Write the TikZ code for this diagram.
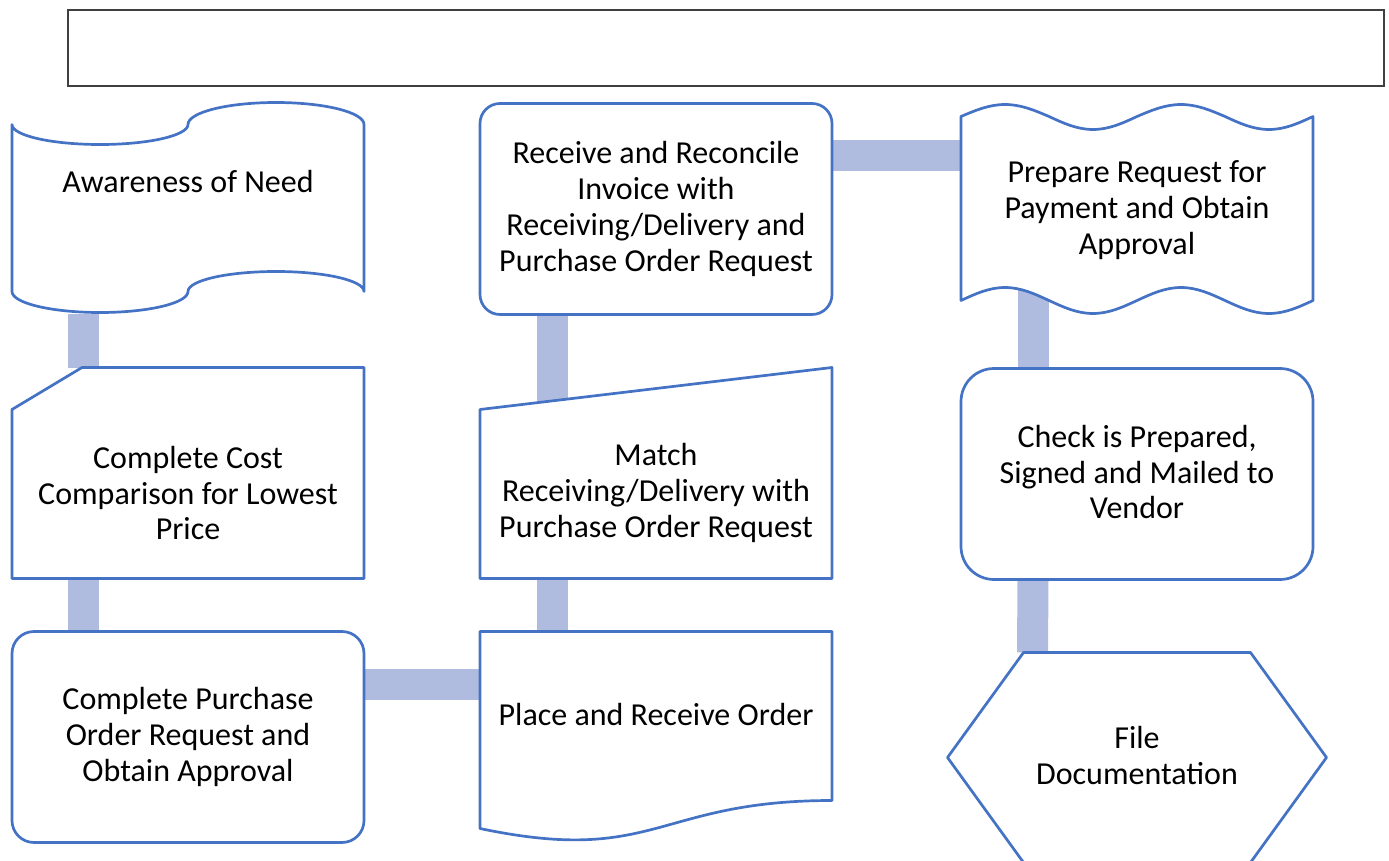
\documentclass[tikz,border=0pt]{standalone}
\usepackage{fontspec}
\setmainfont{Carlito}
\usetikzlibrary{positioning, calc}

\definecolor{edgeblue}{HTML}{4472C4}
\definecolor{linkblue}{HTML}{B0BCDF}
\pgfdeclarelayer{background}
\pgfsetlayers{background,main}

\begin{document}
\begin{tikzpicture}[x=1pt, y=-1pt, node distance=53pt,
    box/.style={minimum width=352pt, minimum height=211pt, inner sep=0pt, outer sep=0pt},
    proc/.style={box, draw=edgeblue, line width=2.7pt, fill=white, rounded corners=#1},
    outline/.style={draw=edgeblue, line width=2.7pt, fill=white, line join=round},
    txt/.style={align=center, font=\fontsize{32}{35.7}\selectfont},
    link/.style={linkblue, line width=31pt}]

    \useasboundingbox (0,0) rectangle (1389,861);
    \node[draw=black!75, line width=1.3pt, minimum width=1316pt, minimum height=76pt] (title) at (726,48) {};

    % boxes, column by column
    \node[box] (need) at (188,208) {};
    \node[box] (cost) [below=54pt of need] {};
    \node[proc=22pt, txt] (buy) [below=of cost] {Complete Purchase\\Order Request and\\Obtain Approval};
    \node[box] (place) [right=116pt of buy] {};
    \node[box] (match) [above=of place] {};
    \node[proc=20pt, txt] (recv) [above=of match] {Receive and Reconcile\\Invoice with\\Receiving/Delivery and\\Purchase Order Request};
    \node[box] (prep) [right=129pt of recv] {};
    \node[box] (check) [below=54pt of prep] {};
    \node[box, minimum width=379pt, minimum height=210pt] (file) [below=73pt of check] {};

    % punched tape
    \begin{scope}[shift={(need.north west)}]
        \draw[outline] (0,22) arc[start angle=180, end angle=360, x radius=88pt, y radius=20pt]
            arc[start angle=180, end angle=0, x radius=88pt, y radius=22pt] -- (352,189)
            arc[start angle=0, end angle=180, x radius=88pt, y radius=20pt]
            arc[start angle=0, end angle=-180, x radius=88pt, y radius=21pt] -- cycle;
    \end{scope}
    % card
    \begin{scope}[shift={(cost.north west)}]
        \draw[outline] (0,42) -- (70,0) -- (352,0) -- (352,211) -- (0,211) -- cycle;
    \end{scope}
    % document
    \begin{scope}[shift={(place.north west)}]
        \draw[outline] (0,0) -- (352,0) -- (352,169) .. controls (176,169) and (176,234) .. (0,197) -- cycle;
    \end{scope}
    % manual input
    \begin{scope}[shift={(match.north west)}]
        \draw[outline] (0,42) -- (352,0) -- (352,211) -- (0,211) -- cycle;
    \end{scope}
    % double wave
    \begin{scope}[shift={(prep.north west)}]
        \draw[outline] (0,13) sin (44,1) cos (88,13) sin (132,26) cos (176,13)
            sin (220,1) cos (264,13) sin (308,26) cos (352,13) -- (352,197)
            sin (308,210) cos (264,197) sin (220,184) cos (176,197)
            sin (132,210) cos (88,197) sin (44,184) cos (0,197) -- cycle;
    \end{scope}
    % rounded box, text set apart
    \draw[outline, rounded corners=33pt] (check.north west) rectangle (check.south east);
    % preparation
    \begin{scope}[shift={(file.north west)}]
        \draw[outline] (76,0) -- (303,0) -- (379,105) -- (303,210) -- (76,210) -- (0,105) -- cycle;
    \end{scope}

    \node[txt] (needt) at ($(need)+(0,-26)$) {Awareness of Need};
    \node[txt] (costt) at ($(cost)+(0,20)$) {Complete Cost\\Comparison for Lowest\\Price};
    \node[txt] (placet) at ($(place)+(0,-22)$) {Place and Receive Order};
    \node[txt] (matcht) at ($(match)+(0,20)$) {Match\\Receiving/Delivery with\\Purchase Order Request};
    \node[txt] (prept) at ($(prep)+(0,1)$) {Prepare Request for\\Payment and Obtain\\Approval};
    \node[txt] (checkt) at ($(check)+(0,-2)$) {Check is Prepared,\\Signed and Mailed to\\Vendor};
    \node[txt] (filet) at ($(file)+(0,-2)$) {File\\Documentation};

    % connectors behind the shapes
    \begin{pgfonlayer}{background}
        \draw[link] ($(need.south west)+(71,0)$) -- ($(cost.north west)+(71,0)$);
        \draw[link] ($(cost.south west)+(71,0)$) -- ($(buy.north west)+(71,0)$);
        \draw[link] ($(buy.north east)+(0,53)$) -- ($(place.north west)+(0,53)$);
        \draw[link] ($(place.north west)+(72,0)$) -- ($(match.south west)+(72,0)$);
        \draw[link] ($(match.south west)+(72,0)$) -- ($(recv.south west)+(72,0)$);
        \draw[link] ($(recv.north east)+(0,52)$) -- ($(prep.north west)+(0,52)$);
        \draw[link] ($(prep.west)+(72,0)$) -- ($(check.north west)+(72,0)$);
        \draw[link] ($(check.south west)+(72,0)$) -- ($(file.north west)+(85,0)$);
    \end{pgfonlayer}
\end{tikzpicture}
\end{document}
